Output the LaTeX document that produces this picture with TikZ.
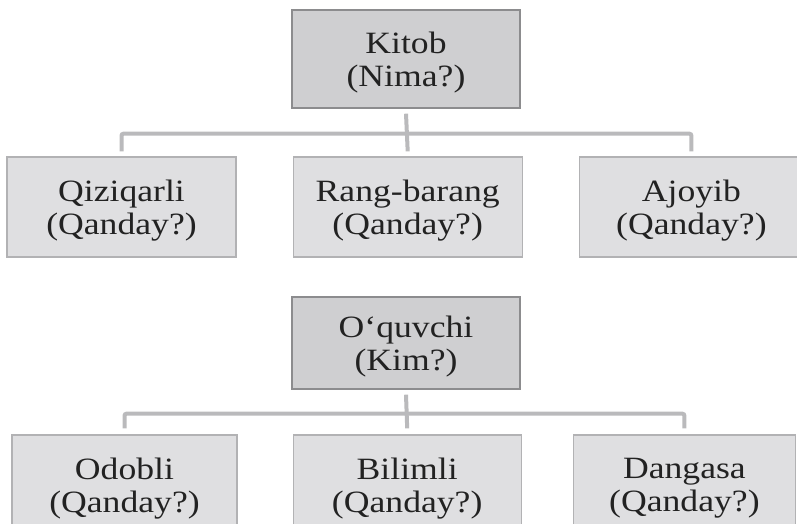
\documentclass[tikz,border=0pt]{standalone}
\usepackage{fontspec}
\setmainfont{Liberation Serif}[FakeStretch=1.15]
\usetikzlibrary{positioning, calc}
\definecolor{headfill}{RGB}{207, 207, 209}
\definecolor{headline}{RGB}{140, 140, 142}
\definecolor{leaffill}{RGB}{223, 223, 225}
\definecolor{leafline}{RGB}{178, 178, 180}
\definecolor{linkcolor}{RGB}{186, 186, 188}
\definecolor{textcolor}{RGB}{34, 34, 34}
\tikzstyle{headbox} = [
    rectangle,
    minimum width=228pt,
    minimum height=98pt,
    align=center,
    text depth=0pt,
    draw=headline,
    line width=1.4pt,
    fill=headfill,
    text=textcolor
]
\tikzstyle{leafbox} = [
    rectangle,
    minimum width=229pt,
    minimum height=100pt,
    align=center,
    text depth=0pt,
    draw=leafline,
    line width=1.2pt,
    fill=leaffill,
    text=textcolor
]
\tikzstyle{link} = [
    line width=4pt,
    color=linkcolor,
    rounded corners=2pt
]

\begin{document}
\begin{tikzpicture}[x=1pt, y=1pt, font=\fontsize{31}{33}\selectfont]

\useasboundingbox (0,0) rectangle (797,523);
\clip (0,0) rectangle (797,523);

% Tree 1: Kitob
\node[headbox] (kitob) at (406, 464) {Kitob\\(Nima?)};

\node[leafbox] (qiziqarli) at (121.5, 316) {Qiziqarli\\(Qanday?)};
\node[leafbox, right=56pt of qiziqarli] (rangbarang) {Rang-barang\\(Qanday?)};
\node[leafbox, right=56pt of rangbarang, minimum width=224pt] (ajoyib) {Ajoyib\\(Qanday?)};

% Links 1
\coordinate (kbar) at ([yshift=-25pt]kitob.south);
\draw[link] ([yshift=-5pt]kitob.south) -- ([yshift=5pt]rangbarang.north);
\draw[link] ([yshift=5pt]qiziqarli.north) |- (kbar) -| ([yshift=5pt]ajoyib.north);

% Tree 2: O'quvchi
\node[headbox, minimum height=92pt] (oquvchi) at (406, 180) {O‘quvchi\\(Kim?)};

\node[leafbox, minimum width=225pt] (odobli) at (124.5, 38) {Odobli\\(Qanday?)};
\node[leafbox, right=55pt of odobli, minimum width=228pt] (bilimli) {Bilimli\\(Qanday?)};
\node[leafbox, right=51pt of bilimli, minimum width=222pt] (dangasa) {Dangasa\\(Qanday?)};

% Links 2
\coordinate (obar) at ([yshift=-24pt]oquvchi.south);
\draw[link] ([yshift=-5pt]oquvchi.south) -- ([yshift=6pt]bilimli.north);
\draw[link] ([yshift=6pt]odobli.north) |- (obar) -| ([yshift=6pt]dangasa.north);

\end{tikzpicture}
\end{document}
